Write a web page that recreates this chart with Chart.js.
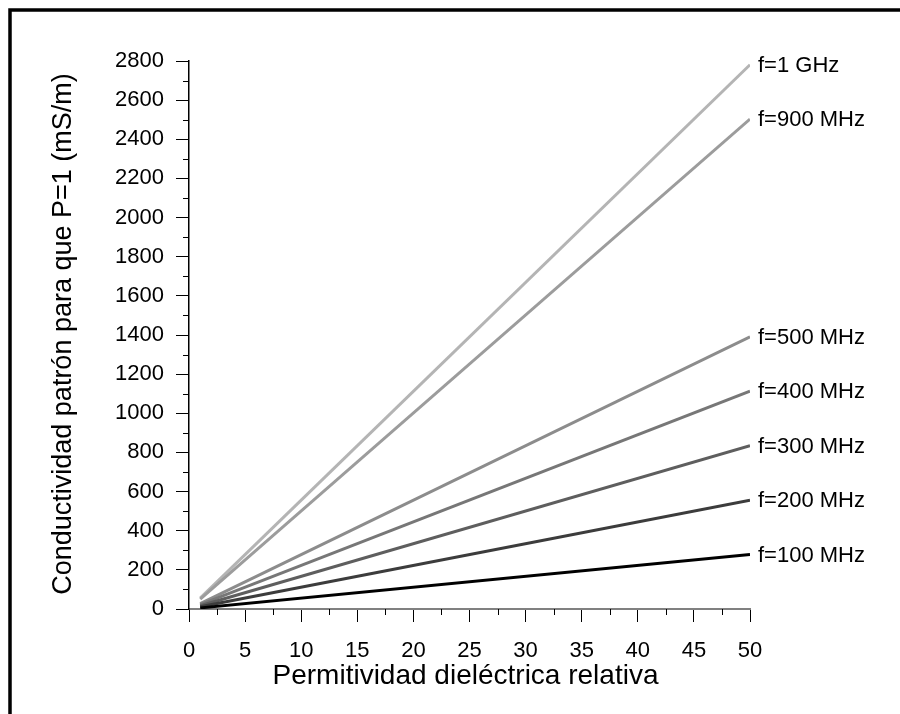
<!DOCTYPE html>
<html>
<head>
<meta charset="utf-8">
<script src="https://cdn.jsdelivr.net/npm/chart.js@4.4.1/dist/chart.umd.min.js"></script>
<style>
  html, body { margin: 0; padding: 0; background: #ffffff; }
  #wrap { width: 900px; height: 714px; position: relative; }
</style>
</head>
<body>
<div id="wrap"><canvas id="c" width="900" height="714"></canvas></div>
<script>
// ---- data ----
const permittivity = [1, 50];
const sigma1GHz   = [55.6, 2781];
const sigma900MHz = [50.1, 2503];
const sigma500MHz = [27.8, 1391];
const sigma400MHz = [22.3, 1113];
const sigma300MHz = [16.7, 834];
const sigma200MHz = [11.1, 556];
const sigma100MHz = [5.6, 278];
const seriesLabels = ['f=1 GHz', 'f=900 MHz', 'f=500 MHz', 'f=400 MHz', 'f=300 MHz', 'f=200 MHz', 'f=100 MHz'];
const seriesValues = [sigma1GHz, sigma900MHz, sigma500MHz, sigma400MHz, sigma300MHz, sigma200MHz, sigma100MHz];
const seriesColors = ['#b4b4b4', '#9c9c9c', '#8c8c8c', '#777777', '#5e5e5e', '#3c3c3c', '#000000'];
const xTitle = 'Permitividad dieléctrica relativa';
const yTitle = 'Conductividad patrón para que P=1 (mS/m)';

const FONT = '"Liberation Sans", Arial, Helvetica, sans-serif';

const datasets = seriesValues.map((vals, i) => ({
  label: seriesLabels[i],
  data: permittivity.map((x, j) => ({ x: x, y: vals[j] })),
  borderColor: seriesColors[i],
  backgroundColor: seriesColors[i],
  borderWidth: 3,
  pointRadius: 0,
  fill: false,
  tension: 0,
  order: seriesValues.length - i
}));

const framePlugin = {
  id: 'frame',
  afterDraw(chart) {
    const ctx = chart.ctx;
    ctx.save();
    ctx.strokeStyle = '#000';
    ctx.lineWidth = 3.5;
    ctx.strokeRect(10, 10, 1000, 1000);
    ctx.restore();
  }
};

const minorTicksPlugin = {
  id: 'minorTicks',
  afterDraw(chart) {
    const ctx = chart.ctx;
    const xs = chart.scales.x, ys = chart.scales.y;
    ctx.save();
    ctx.strokeStyle = '#000';
    ctx.lineWidth = 1;
    const yt = ys.ticks.map(t => t.value);
    for (let i = 0; i < yt.length - 1; i++) {
      const v = (yt[i] + yt[i + 1]) / 2;
      const p = Math.round(ys.getPixelForValue(v)) + 0.5;
      ctx.beginPath();
      ctx.moveTo(ys.right - 6, p);
      ctx.lineTo(ys.right, p);
      ctx.stroke();
    }
    const xt = xs.ticks.map(t => t.value);
    for (let i = 0; i < xt.length - 1; i++) {
      const v = (xt[i] + xt[i + 1]) / 2;
      const p = Math.round(xs.getPixelForValue(v)) + 0.5;
      ctx.beginPath();
      ctx.moveTo(p, xs.top);
      ctx.lineTo(p, xs.top + 6);
      ctx.stroke();
    }
    ctx.restore();
  }
};

const endLabelsPlugin = {
  id: 'endLabels',
  afterDatasetsDraw(chart) {
    const ctx = chart.ctx;
    ctx.save();
    ctx.font = '22px ' + FONT;
    ctx.fillStyle = '#000';
    ctx.textAlign = 'left';
    ctx.textBaseline = 'middle';
    chart.data.datasets.forEach((ds, i) => {
      const meta = chart.getDatasetMeta(i);
      const last = meta.data[meta.data.length - 1];
      ctx.fillText(ds.label, last.x + 8, last.y + 1);
    });
    ctx.restore();
  }
};

const axisTitlesPlugin = {
  id: 'axisTitles',
  afterDraw(chart) {
    const ctx = chart.ctx;
    const a = chart.chartArea;
    ctx.save();
    ctx.fillStyle = '#000';
    ctx.textAlign = 'center';
    ctx.textBaseline = 'alphabetic';
    ctx.font = '28px ' + FONT;
    ctx.fillText(xTitle, (a.left + a.right) / 2 - 4, 684);
    ctx.font = '27px ' + FONT;
    ctx.translate(71, 334);
    ctx.rotate(-Math.PI / 2);
    ctx.fillText(yTitle, 0, 0);
    ctx.restore();
  }
};

const plainNumber = (v) => String(v);

new Chart(document.getElementById('c'), {
  type: 'line',
  data: { datasets: datasets },
  options: {
    responsive: false,
    animation: false,
    events: [],
    layout: { padding: { left: 0, right: 150, top: 61, bottom: 0 } },
    plugins: { legend: { display: false }, tooltip: { enabled: false }, title: { display: false } },
    scales: {
      x: {
        type: 'linear',
        min: 0, max: 50,
        afterFit(scale) { scale.height = 105; },
        ticks: { stepSize: 5, color: '#000', font: { family: FONT, size: 22 }, padding: 16, maxRotation: 0, autoSkip: false, callback: plainNumber },
        grid: { drawOnChartArea: false, drawTicks: true, tickLength: 13, color: '#000', lineWidth: 1 },
        border: { display: true, color: '#808080', width: 2 }
      },
      y: {
        type: 'linear',
        min: 0, max: 2800,
        afterFit(scale) { scale.width = 189; },
        ticks: { stepSize: 200, color: '#000', font: { family: FONT, size: 22 }, padding: 12, autoSkip: false, callback: plainNumber },
        grid: { drawOnChartArea: false, drawTicks: true, tickLength: 13, color: '#000', lineWidth: 1 },
        border: { display: true, color: '#000', width: 1.5 }
      }
    }
  },
  plugins: [framePlugin, minorTicksPlugin, endLabelsPlugin, axisTitlesPlugin]
});
</script>
</body>
</html>
